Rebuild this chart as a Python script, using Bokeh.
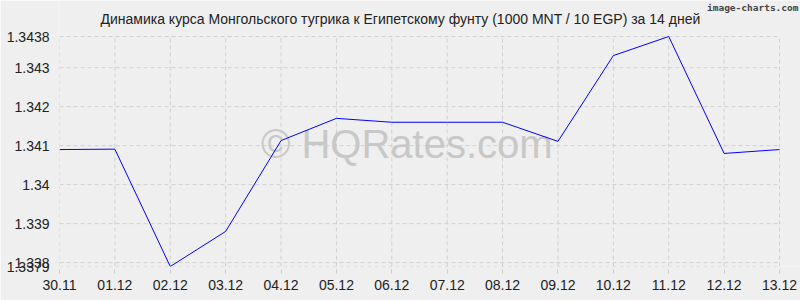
from bokeh.plotting import figure
from bokeh.models import FixedTicker, Label, CustomJSTickFormatter
from bokeh.embed import file_html
from bokeh.resources import INLINE

dates = ["30.11", "01.12", "02.12", "03.12", "04.12", "05.12", "06.12",
         "07.12", "08.12", "09.12", "10.12", "11.12", "12.12", "13.12"]
rates = [1.3409, 1.34091, 1.3379, 1.3388, 1.34113, 1.3417, 1.3416,
         1.3416, 1.3416, 1.34111, 1.34331, 1.3438, 1.3408, 1.3409]
y_ticks = [1.3379, 1.338, 1.339, 1.34, 1.341, 1.342, 1.343, 1.3438]
title_text = "Динамика курса Монгольского тугрика к Египетскому фунту (1000 MNT / 10 EGP) за 14 дней"

FONT = "Liberation Sans"
BG = "#efefef"
GRID = "#d0d0d0"

xs = list(range(len(dates)))
y_lo, y_hi = min(y_ticks), max(y_ticks)
x_hi = len(dates) - 1

# geometry: grid area 720 x 230 px; frame extended to the top and right canvas edge
W, H = 800, 300
LEFT, BOTTOM, GRID_W, GRID_H = 59, 34, 720, 230
ux = x_hi / GRID_W            # data units per pixel (x)
uy = (y_hi - y_lo) / GRID_H   # data units per pixel (y)
top_pad = H - BOTTOM - GRID_H  # 36
right_pad = W - LEFT - GRID_W  # 21

p = figure(width=W, height=H, output_backend="svg", toolbar_location=None,
           x_range=(0, x_hi + right_pad * ux), y_range=(y_lo, y_hi + top_pad * uy),
           min_border_left=LEFT, min_border_right=0, min_border_top=0, min_border_bottom=BOTTOM,
           background_fill_color=BG, border_fill_color=BG, outline_line_color=None)
p.xgrid.visible = False
p.ygrid.visible = False

# grid lines limited to the chart area
p.segment(x0=xs, y0=[y_lo] * len(xs), x1=xs, y1=[y_hi] * len(xs),
          line_color=GRID, line_dash="4 3", line_width=1, level="underlay")
p.segment(x0=[0] * len(y_ticks), y0=y_ticks, x1=[x_hi] * len(y_ticks), y1=y_ticks,
          line_color=GRID, line_dash="4 3", line_width=1, level="underlay")

# title and credit
p.add_layout(Label(x=(400 - LEFT) * ux, y=y_hi + (top_pad - 18) * uy, text=title_text,
                   text_font=FONT, text_font_size="14px", text_color="#222222",
                   text_align="center", text_baseline="middle"))
p.add_layout(Label(x=(798 - LEFT) * ux, y=y_hi + (top_pad - 7) * uy, text="image-charts.com",
                   text_font="DejaVu Sans Mono", text_font_size="9.5px", text_font_style="bold",
                   text_color="#444444", text_align="right", text_baseline="middle"))

# watermark
p.add_layout(Label(x=6.27, y=1.34105, text="© HQRates.com", text_font=FONT,
                   text_font_size="40px", text_color="#c8c8c8",
                   text_align="center", text_baseline="middle", level="underlay"))

p.line(xs, rates, line_color="#0000ff", line_width=1)

for ax in (p.xaxis[0], p.yaxis[0]):
    ax.axis_line_color = None
    ax.major_tick_in = 0
    ax.major_tick_out = 7
    ax.major_tick_line_color = "#cccccc"
    ax.major_tick_line_dash = "4 3"
    ax.minor_tick_line_color = None
    ax.major_label_text_font = FONT
    ax.major_label_text_font_size = "14px"
    ax.major_label_text_color = "#222222"

p.xaxis.ticker = FixedTicker(ticks=xs)
p.xaxis.major_label_overrides = {i: d for i, d in enumerate(dates)}
p.xaxis.major_label_standoff = 6
p.yaxis.ticker = FixedTicker(ticks=y_ticks)
p.yaxis.formatter = CustomJSTickFormatter(code="return parseFloat(tick.toFixed(4)).toString();")
p.yaxis.major_tick_out = 0
p.yaxis.major_label_standoff = 10

open("out.html", "w").write(file_html(p, INLINE))
